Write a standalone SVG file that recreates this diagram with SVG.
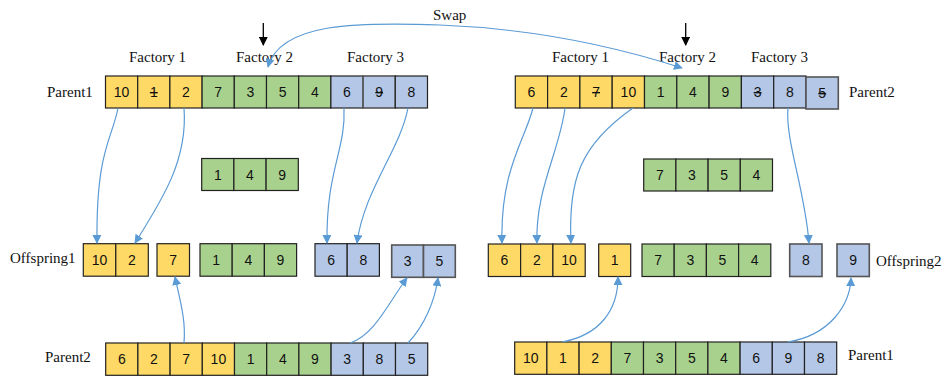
<svg xmlns="http://www.w3.org/2000/svg" width="950" height="378" viewBox="0 0 950 378">
<style>
.y{fill:#FFD966;stroke:#222;stroke-width:1.2}
.g{fill:#A9D18E;stroke:#222;stroke-width:1.2}
.b{fill:#B4C7E7;stroke:#222;stroke-width:1.2}
.bd{fill:#B4C7E7;stroke:#555;stroke-width:1.6}
.n{font-family:"Liberation Sans",Arial,sans-serif;font-size:14px;fill:#111;text-anchor:middle;dominant-baseline:central}
.s{text-decoration:line-through}
.l{font-family:"Liberation Serif","Times New Roman",serif;font-size:15px;fill:#111}
.c{fill:none;stroke:#5B9BD5;stroke-width:1.2;marker-end:url(#ab)}
.k{stroke:#000;stroke-width:1.3;marker-end:url(#ak)}
</style>
<defs>
<marker id="ab" viewBox="0 0 10 10" refX="9" refY="5" markerWidth="9" markerHeight="9" markerUnits="userSpaceOnUse" orient="auto"><path d="M0,0 L10,5 L0,10 z" fill="#5B9BD5"/></marker>
<marker id="ab2" viewBox="0 0 10 10" refX="1" refY="5" markerWidth="9" markerHeight="9" markerUnits="userSpaceOnUse" orient="auto"><path d="M10,0 L0,5 L10,10 z" fill="#5B9BD5"/></marker>
<marker id="ak" viewBox="0 0 10 10" refX="9" refY="5" markerWidth="9" markerHeight="9" markerUnits="userSpaceOnUse" orient="auto"><path d="M0,0 L10,5 L0,10 z" fill="#000"/></marker>
</defs>

<g id="labels">
<text class="l" x="129" y="62">Factory 1</text>
<text class="l" x="236" y="62">Factory 2</text>
<text class="l" x="347" y="62">Factory 3</text>
<text class="l" x="552" y="62">Factory 1</text>
<text class="l" x="659" y="62">Factory 2</text>
<text class="l" x="751" y="62">Factory 3</text>
<text class="l" x="433" y="20">Swap</text>
<text class="l" x="47" y="97">Parent1</text>
<text class="l" x="849" y="97">Parent2</text>
<text class="l" x="10" y="263">Offspring1</text>
<text class="l" x="876" y="266">Offspring2</text>
<text class="l" x="45" y="362">Parent2</text>
<text class="l" x="848" y="360">Parent1</text>
</g>

<g id="parent1-left">
<rect class="y" x="105.5" y="76" width="32.2" height="32"/><text class="n" x="121.6" y="92">10</text>
<rect class="y" x="137.7" y="76" width="32.2" height="32"/><text class="n s" x="153.8" y="92">1</text>
<rect class="y" x="169.9" y="76" width="32.2" height="32"/><text class="n" x="186" y="92">2</text>
<rect class="g" x="202.1" y="76" width="32.2" height="32"/><text class="n" x="218.2" y="92">7</text>
<rect class="g" x="234.3" y="76" width="32.2" height="32"/><text class="n" x="250.4" y="92">3</text>
<rect class="g" x="266.5" y="76" width="32.2" height="32"/><text class="n" x="282.6" y="92">5</text>
<rect class="g" x="298.7" y="76" width="32.2" height="32"/><text class="n" x="314.8" y="92">4</text>
<rect class="b" x="330.9" y="76" width="32.2" height="32"/><text class="n" x="347" y="92">6</text>
<rect class="bd" x="363.1" y="76" width="32.2" height="32"/><text class="n s" x="379.2" y="92">9</text>
<rect class="b" x="395.3" y="76" width="32.2" height="32"/><text class="n" x="411.4" y="92">8</text>
</g>

<g id="parent2-right">
<rect class="y" x="515.3" y="76" width="32.3" height="32"/><text class="n" x="531.5" y="92">6</text>
<rect class="y" x="547.6" y="76" width="32.3" height="32"/><text class="n" x="563.8" y="92">2</text>
<rect class="y" x="579.9" y="76" width="32.3" height="32"/><text class="n s" x="596.1" y="92">7</text>
<rect class="y" x="612.2" y="76" width="32.3" height="32"/><text class="n" x="628.4" y="92">10</text>
<rect class="g" x="644.5" y="76" width="32.3" height="32"/><text class="n" x="660.7" y="92">1</text>
<rect class="g" x="676.8" y="76" width="32.3" height="32"/><text class="n" x="693" y="92">4</text>
<rect class="g" x="709.1" y="76" width="32.3" height="32"/><text class="n" x="725.3" y="92">9</text>
<rect class="b" x="741.4" y="76" width="32.3" height="32"/><text class="n s" x="757.6" y="92">3</text>
<rect class="b" x="773.7" y="76" width="32.3" height="32"/><text class="n" x="789.9" y="92">8</text>
<rect class="bd" x="806" y="77" width="32.3" height="32"/><text class="n s" x="822.2" y="93">5</text>
</g>

<g id="mid-left">
<rect class="g" x="201.7" y="158.5" width="32.2" height="32"/><text class="n" x="217.8" y="174.5">1</text>
<rect class="g" x="233.9" y="158.5" width="32.2" height="32"/><text class="n" x="250" y="174.5">4</text>
<rect class="g" x="266.1" y="158.5" width="32.2" height="32"/><text class="n" x="282.2" y="174.5">9</text>
</g>

<g id="mid-right">
<rect class="g" x="643.7" y="159" width="32.2" height="32"/><text class="n" x="659.8" y="175">7</text>
<rect class="g" x="675.9" y="159" width="32.2" height="32"/><text class="n" x="692" y="175">3</text>
<rect class="g" x="708.1" y="159" width="32.2" height="32"/><text class="n" x="724.2" y="175">5</text>
<rect class="g" x="740.3" y="159" width="32.2" height="32"/><text class="n" x="756.4" y="175">4</text>
</g>

<g id="offspring1">
<rect class="y" x="83.3" y="243.7" width="32.5" height="32.5"/><text class="n" x="99.5" y="260">10</text>
<rect class="y" x="115.8" y="243.7" width="32.5" height="32.5"/><text class="n" x="132" y="260">2</text>
<rect class="y" x="157" y="243.7" width="32.5" height="32.5"/><text class="n" x="173.2" y="260">7</text>
<rect class="g" x="200" y="243.7" width="32.2" height="32.5"/><text class="n" x="216.1" y="260">1</text>
<rect class="g" x="232.2" y="243.7" width="32.2" height="32.5"/><text class="n" x="248.3" y="260">4</text>
<rect class="g" x="264.4" y="243.7" width="32.2" height="32.5"/><text class="n" x="280.5" y="260">9</text>
<rect class="b" x="315" y="243.7" width="32.2" height="32.5"/><text class="n" x="331.1" y="260">6</text>
<rect class="b" x="347.2" y="243.7" width="32.2" height="32.5"/><text class="n" x="363.3" y="260">8</text>
<rect class="bd" x="391.7" y="245" width="31.8" height="32.3"/><text class="n" x="407.6" y="261">3</text>
<rect class="bd" x="423.5" y="245" width="31.8" height="32.3"/><text class="n" x="439.4" y="261">5</text>
</g>

<g id="offspring2">
<rect class="y" x="488.3" y="244" width="32.3" height="32.5"/><text class="n" x="504.5" y="260.2">6</text>
<rect class="y" x="520.6" y="244" width="32.3" height="32.5"/><text class="n" x="536.8" y="260.2">2</text>
<rect class="y" x="552.9" y="244" width="32.3" height="32.5"/><text class="n" x="569.1" y="260.2">10</text>
<rect class="y" x="598.7" y="244" width="32" height="32.5"/><text class="n" x="614.7" y="260.2">1</text>
<rect class="g" x="642" y="244" width="32.2" height="32.5"/><text class="n" x="658.1" y="260.2">7</text>
<rect class="g" x="674.2" y="244" width="32.2" height="32.5"/><text class="n" x="690.3" y="260.2">3</text>
<rect class="g" x="706.4" y="244" width="32.2" height="32.5"/><text class="n" x="722.5" y="260.2">5</text>
<rect class="g" x="738.6" y="244" width="32.2" height="32.5"/><text class="n" x="754.7" y="260.2">4</text>
<rect class="bd" x="789.7" y="244" width="32.3" height="32.5"/><text class="n" x="805.8" y="260.2">8</text>
<rect class="bd" x="837" y="244" width="32.3" height="32.5"/><text class="n" x="853.1" y="260.2">9</text>
</g>

<g id="parent2-left">
<rect class="y" x="105.7" y="343" width="32.2" height="32.3"/><text class="n" x="121.8" y="359">6</text>
<rect class="y" x="137.9" y="343" width="32.2" height="32.3"/><text class="n" x="154" y="359">2</text>
<rect class="y" x="170.1" y="343" width="32.2" height="32.3"/><text class="n" x="186.2" y="359">7</text>
<rect class="y" x="202.3" y="343" width="32.2" height="32.3"/><text class="n" x="218.4" y="359">10</text>
<rect class="g" x="234.5" y="343" width="32.2" height="32.3"/><text class="n" x="250.6" y="359">1</text>
<rect class="g" x="266.7" y="343" width="32.2" height="32.3"/><text class="n" x="282.8" y="359">4</text>
<rect class="g" x="298.9" y="343" width="32.2" height="32.3"/><text class="n" x="315" y="359">9</text>
<rect class="b" x="331.1" y="343" width="32.2" height="32.3"/><text class="n" x="347.2" y="359">3</text>
<rect class="b" x="363.3" y="343" width="32.2" height="32.3"/><text class="n" x="379.4" y="359">8</text>
<rect class="b" x="395.5" y="343" width="32.2" height="32.3"/><text class="n" x="411.6" y="359">5</text>
</g>

<g id="parent1-right">
<rect class="y" x="514.7" y="342" width="32.2" height="32.3"/><text class="n" x="530.8" y="358">10</text>
<rect class="y" x="546.9" y="342" width="32.2" height="32.3"/><text class="n" x="563" y="358">1</text>
<rect class="y" x="579.1" y="342" width="32.2" height="32.3"/><text class="n" x="595.2" y="358">2</text>
<rect class="g" x="611.3" y="342" width="32.2" height="32.3"/><text class="n" x="627.4" y="358">7</text>
<rect class="g" x="643.5" y="342" width="32.2" height="32.3"/><text class="n" x="659.6" y="358">3</text>
<rect class="g" x="675.7" y="342" width="32.2" height="32.3"/><text class="n" x="691.8" y="358">5</text>
<rect class="g" x="707.9" y="342" width="32.2" height="32.3"/><text class="n" x="724" y="358">4</text>
<rect class="b" x="740.1" y="342" width="32.2" height="32.3"/><text class="n" x="756.2" y="358">6</text>
<rect class="b" x="772.3" y="342" width="32.2" height="32.3"/><text class="n" x="788.4" y="358">9</text>
<rect class="b" x="804.5" y="342" width="32.2" height="32.3"/><text class="n" x="820.6" y="358">8</text>
</g>

<g id="connectors">
<line class="k" x1="263.3" y1="23" x2="263.3" y2="45"/>
<line class="k" x1="685.7" y1="23" x2="685.7" y2="45"/>
<path class="c" style="marker-start:url(#ab2)" d="M268,67 C280,22 360,22 440,25 C540,29 620,48 682,68"/>
<path class="c" d="M118,108 C112,140 96,150 97,243"/>
<path class="c" d="M184,108 C188,160 162,200 135,243"/>
<path class="c" d="M344,108 C346,150 326,170 327,243"/>
<path class="c" d="M408,108 C400,150 364,190 357,243"/>
<path class="c" d="M533,108 C525,140 500,170 502,243"/>
<path class="c" d="M565,108 C560,150 535,190 537,243"/>
<path class="c" d="M633,108 C580,145 568,180 571,243"/>
<path class="c" d="M788,108 C785,140 805,190 809,243"/>
<path class="c" d="M184,343 C186,320 180,300 175,277"/>
<path class="c" d="M350,343 C375,335 390,300 407,278"/>
<path class="c" d="M408,343 C425,325 435,300 438,278"/>
<path class="c" d="M562,342 C600,335 618,310 618,277"/>
<path class="c" d="M788,342 C830,335 850,305 851,278"/>
</g>
</svg>
